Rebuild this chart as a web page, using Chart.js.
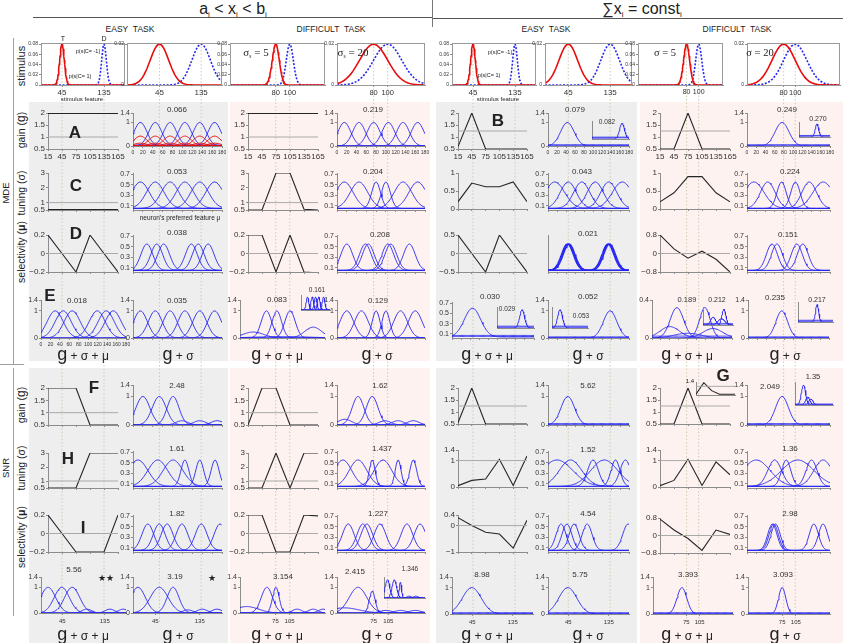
<!DOCTYPE html>
<html><head><meta charset="utf-8">
<script src="https://cdn.jsdelivr.net/npm/chart.js@4.4.1/dist/chart.umd.min.js"></script>
<style>
body{margin:0;background:#fff;}
#root{position:relative;width:843px;height:643px;overflow:hidden;font-family:'Liberation Sans',Arial,sans-serif;color:#222;background:#fff}
.t{position:absolute;white-space:nowrap;transform:translate(-50%,-50%);line-height:1}
.r{position:absolute;white-space:nowrap;transform:translate(-50%,-50%) rotate(-90deg);line-height:1}
.bg{position:absolute}
canvas{position:absolute}
sub{font-size:0.5em;vertical-align:-0.35em}
</style></head><body><div id="root"></div>
<script>
// ================= DATA =================
const featureX = [15,45,75,105,135,165];
const curveXTicks = [0,20,40,60,80,100,120,140,160,180];
const stimMeansEasy = [45,135];
const stimMeansHard = [80,100];
const stimSD = [5,20];

// parameter profiles over neurons (values at featureX)
const mdeGainEasyA = [2,2,2,2,2,2];
const mdeGainHard = [2,2,2,2,2,2];
const mdeTuneEasyC = [0.5,0.5,0.5,0.5,0.5,0.5];
const mdeTuneHard = [0.5,0.5,3,3,0.55,0.5];
const mdeSelEasyD = [0.2,0,-0.2,0.2,0,-0.2];
const mdeSelHard = [0.2,0.2,-0.2,0.2,-0.2,-0.21];
const mdeGainEasySumB = [0.6,2,0.5,0.5,0.5,0.5];
const mdeGainHardSum = [0.5,0.5,2,0.5,0.5,0.5];
const mdeTuneEasySum = [0.2,0.72,0.62,0.62,0.75,0.2];
const mdeTuneHardSum = [0.2,0.45,0.9,0.9,0.45,0.2];
const mdeSelEasySum = [0.5,0,-0.5,0.5,0,-0.5];
const mdeSelHardSum = [0.8,0.2,-0.2,0.1,-0.25,-0.8];

const snrGainEasyF = [2,2,2,0.5,0.5,0.5];
const snrGainHard = [0.5,2,2,0.5,0.5,0.5];
const snrTuneEasyH = [0.5,0.5,0.5,3,3,3];
const snrTuneHard = [0.5,0.5,3,0.5,3,3];
const snrSelEasyI = [0.2,0,-0.2,-0.2,-0.2,0.2];
const snrSelHard = [0.2,0.2,-0.2,-0.2,0.2,0.19];
const snrGainEasySum = [0.55,2,0.5,0.5,0.5,0.5];
const snrGainHardSum = [0.5,0.5,2,0.5,0.5,0.5];
const snrGainHardSumG = [0.55,1.35,0.8,0.55,0.55,0.55];
const snrTuneEasySum = [0.05,0.25,0.3,1.05,0.06,1.17];
const snrTuneHardSum = [0.05,0.25,1.05,0.06,0.95,0.46];
const snrSelEasySum = [0.3,0,-0.25,-0.32,-0.85,0.2];
const snrSelHardSum = [0.75,0.25,-0.14,-0.68,0.25,0.05];

// tuning curves: [preferred feature mu, gain, width sigma]
const gainEasyBlue = [[15,1,13],[45,1,13],[75,1,13],[105,1,13],[135,1,13],[165,1,13]];
const gainEasyRedHi = [[15,.42,13],[45,.42,13],[75,.42,13],[105,.42,13],[135,.42,13],[165,.42,13]];
const gainEasyRedLo = [[15,.12,13],[45,.12,13],[75,.12,13],[105,.12,13],[135,.12,13],[165,.12,13]];
const gainEasyBlueLo = [[15,.05,13],[45,.05,13],[75,.05,13],[105,.05,13],[135,.05,13],[165,.05,13]];
const tuneEasyC = [[15,.5,18],[45,.5,18],[75,.5,18],[105,.5,18],[135,.5,18],[165,.5,18]];
const selEasyD = [[28,.5,12],[48,.5,12],[62,.5,12],[118,.5,12],[132,.5,12],[152,.5,12]];
const allEasyE = [[30,1,17],[47,1,17],[66,1,17],[119,1,17],[138,1,17],[153,1,17]];
const gsEasyE = [[15,1,14],[45,1,14],[75,1,14],[105,1,14],[135,1,14],[165,1,14]];

const gainHardG = [[15,1,13],[45,1,13],[75,1,13],[105,1,13],[135,1,13],[165,1,13]];
const tuneHardC = [[15,.5,18],[45,.5,18],[80,.5,9],[100,.5,9],[135,.5,18],[165,.5,18]];
const selHardD = [[20,.5,12],[58,.5,12],[64,.5,12],[104,.5,12],[110,.5,12],[148,.5,12]];
const allHardE = [[28,.22,22],[56,1,11],[78,1,10],[106,1,11],[155,.4,18],[90,.05,60]];
const allHardEInset = [[40,1,8],[70,1,8],[90,1,8],[110,1,8],[140,1,8]];
const gsHardE = [[20,1,14],[50,1,14],[80,1,8],[100,1,8],[130,1,14],[160,1,14]];

const gainEasySumG = [[43,1,15],[90,.03,400],[90,.05,400]];
const gainEasySumInset = [[146,1,12],[90,.08,400],[90,.12,400]];
const tuneEasySumG = [[15,.5,22],[45,.5,18],[75,.5,18],[105,.5,18],[135,.5,18],[165,.5,22]];
const selEasySumG = [[43,.5,13],[45,.5,13],[47,.5,13],[133,.5,13],[135,.5,13],[137,.5,13]];
const allEasySumE = [[45,.56,18],[90,.01,400],[90,.03,400]];
const allEasySumInset = [[122,1,12],[90,.05,400],[90,.1,400]];
const gsEasySumE = [[138,1,15],[90,.02,400],[90,.04,400]];
const gsEasySumInset = [[40,1,12],[90,.05,400],[90,.1,400]];

const gainHardSumG = [[76,1,15],[90,.03,400],[90,.05,400]];
const gainHardSumInset = [[104,1,10],[90,.08,400],[90,.12,400]];
const tuneHardSumG = [[15,.5,22],[45,.5,16],[75,.5,10],[105,.5,10],[135,.5,16],[165,.5,22]];
const selHardSumG = [[54,.5,12],[65,.5,12],[108,.5,12],[121,.5,12]];
const allHardSumE = [[56,.32,15],[119,.32,12],[40,.12,22],[137,.1,22],[80,.05,30],[90,.02,400]];
const allHardSumInset = [[60,.5,15],[125,1,12],[110,.4,20],[90,.1,400]];
const gsHardSumE = [[75,1,13],[90,.02,400],[90,.04,400]];
const gsHardSumInset = [[98,1,8],[90,.05,400],[90,.1,400]];

const gainEasyF = [[20,1,14],[53,1,14],[81,1,12],[99,.15,12],[135,.15,12],[170,.15,12]];
const tuneEasyH = [[10,.5,20],[50,.5,20],[81,.5,20],[105,.5,8],[135,.5,8],[166,.5,8]];
const selEasyI = [[30,.5,12],[53,.5,12],[69,.5,12],[99,.5,12],[138,.5,12],[176,.5,12]];
const allEasyBottom = [[15,1,16],[44,1,16],[66,1,16],[97,.15,10],[146,.15,10],[174,.15,10]];
const gsEasyBottom = [[10,1,15],[53,1,18],[81,1,12],[111,.12,10],[140,.15,10],[170,.15,10]];

const gainHardF = [[16,.2,14],[43,1,12],[72,1,12],[98,.15,12],[125,.15,12],[156,.15,12]];
const tuneHardH = [[12,.5,18],[43,.5,18],[72,.5,6],[94,.5,18],[125,.5,6],[156,.5,7]];
const selHardI = [[23,.5,12],[53,.5,12],[61,.5,12],[88,.5,12],[143,.5,12],[170,.5,12]];
const allHardBottom = [[14,.25,25],[57,1,12],[76,1,7],[121,.15,10],[155,.15,10],[176,.15,10]];
const gsHardBottom = [[15,.2,30],[43,1,18],[72,.85,6],[100,.1,12],[130,.1,12],[160,.1,12]];
const gsHardBottomInset = [[15,1,10],[45,1,10],[72,.85,5],[110,.1,10],[140,.1,10]];

const gainEasySumSNR = [[44,1,15],[90,.02,400],[90,.05,400]];
const tuneEasySumSNR = [[20,.5,35],[50,.5,25],[100,.5,12],[125,.5,30],[150,.5,10],[172,.5,12]];
const selEasySumSNR = [[29,.5,11],[42,.5,11],[58,.5,11],[87,.5,11],[178,.5,12]];
const allEasySumSNR = [[44,1,21],[90,.02,400],[90,.05,400]];
const gsEasySumSNR = [[44,1,20],[90,.02,400],[90,.05,400]];

const gainHardSumSNR = [[76,1,14],[90,.02,400],[90,.05,400]];
const gainHardSumSNRInset = [[40,1,10],[60,.4,10],[75,.3,10],[90,.05,400]];
const tuneHardSumSNR = [[20,.5,30],[60,.5,15],[85,.5,10],[110,.5,35],[140,.5,12],[165,.5,20]];
const selHardSumSNR = [[55,.5,10],[58,.5,10],[62,.5,10],[145,.5,10],[165,.5,10]];
const allHardSumSNR = [[65,1,11],[90,.02,400],[90,.05,400]];
const gsHardSumSNR = [[75,1,8],[90,.02,400],[90,.05,400]];

// ================= DRAWING =================
const root = document.getElementById('root');
const FONT = "'Liberation Sans', Arial, sans-serif";
Chart.defaults.font.family = FONT;
Chart.defaults.color = '#333';
const BLUE = '#2626f2', RED = '#e60d0d', AX = '#8c8c8c';

function div(cls, css, html){ const d=document.createElement('div'); d.className=cls; d.style.cssText=css; if(html!=null) d.innerHTML=html; root.appendChild(d); return d; }
function txt(s,x,y,size,extra=''){ return div('t',`left:${x}px;top:${y}px;font-size:${size}px;${extra}`,s); }
function rot(s,x,y,size,extra=''){ return div('r',`left:${x}px;top:${y}px;font-size:${size}px;${extra}`,s); }
function rect(x0,y0,x1,y1,color){ div('bg',`left:${x0}px;top:${y0}px;width:${x1-x0}px;height:${y1-y0}px;background:${color}`); }
const fmt = v => (v<0?'\u2212':'') + String(+Math.abs(v).toFixed(3));

Chart.register({id:'box', afterDatasetsDraw(chart,args,o){
  if(!o||!o.on) return; const a=chart.chartArea, c=chart.ctx; c.save(); c.strokeStyle='#9a9a9a'; c.lineWidth=1;
  c.strokeRect(Math.round(a.left)+.5, Math.round(a.top)+.5, Math.round(a.width)-1, Math.round(a.height)); c.restore(); }});

function plot(box, datasets, o){
  const [x0,y0,x1,y1]=box;
  const PL=o.pl??22, PT=o.pt??5, PR=o.pr??8, PB=o.pb??12;
  const W=Math.round(x1-x0+PL+PR), H=Math.round(y1-y0+PT+PB);
  const c=document.createElement('canvas');
  c.width=W; c.height=H;
  c.style.left=(x0-PL)+'px'; c.style.top=(y0-PT)+'px'; c.style.width=W+'px'; c.style.height=H+'px';
  root.appendChild(c);
  const fitX = s=>{ s.height=PB; s.paddingLeft=s.paddingRight=s.paddingTop=s.paddingBottom=0; };
  const fitY = s=>{ s.width=PL; s.paddingLeft=s.paddingRight=s.paddingTop=s.paddingBottom=0; };
  const ax = (min,max,ticks,showLbl,size,fit,pad)=>({
    type:'linear', min, max, display: !o.hidden,
    afterBuildTicks: s=>{ s.ticks=(ticks||[]).map(v=>({value:v})); },
    afterFit: o.hidden ? undefined : fit,
    ticks:{display:!!showLbl, autoSkip:false, maxRotation:0, minRotation:0, padding:pad, color:'#333', font:{size, family:FONT}, callback:v=>fmt(v)},
    grid:{drawOnChartArea:false, drawTicks:true, tickLength:2, color:AX, lineWidth:1},
    border:{display:true, color:AX, width:1}
  });
  new Chart(c,{type:'line', data:{datasets}, options:{
    responsive:false, animation:false, events:[],
    layout:{padding:{top:PT,right:PR,left:0,bottom:0}},
    plugins:{legend:{display:false}, tooltip:{enabled:false}, box:{on:!!o.box}},
    scales:{ x: ax(o.xmin,o.xmax,o.xt,o.xl,o.xf||8,fitX,o.xpad??1), y: ax(o.ymin,o.ymax,o.yt,o.yl!==false,o.yf||8,fitY,1) }
  }});
}
function line(pts,color,w,dash){ return {data:pts, borderColor:color, borderWidth:w, borderDash:dash||[], pointRadius:0, fill:false, tension:0}; }
function gaussDS(list, base, color, w){
  return list.map(([mu,a,s])=>{
    const step=Math.max(0.5,Math.min(2,s/4)); const pts=[];
    for(let x=0;x<=180.001;x+=step) pts.push({x, y: base + a*Math.exp(-((x-mu)**2)/(2*s*s))});
    return line(pts,color,w);
  });
}
function pdfDS(mu, sd, lo, hi, color, dash){
  const pts=[]; const step=sd/6;
  for(let x=lo;x<=hi+1e-9;x+=step) pts.push({x, y: Math.exp(-((x-mu)**2)/(2*sd*sd))/(sd*Math.sqrt(2*Math.PI))});
  return line(pts,color,1.6,dash);
}
function profile(box, vals, ref, yr, yt, opt={}){
  const ds=[];
  if(ref!=null) ds.push(line([{x:15,y:ref},{x:165,y:ref}],'#a9a9a9',1));
  ds.push(line(featureX.map((x,i)=>({x,y:vals[i]})),'#252525',opt.lw||1.1));
  plot(box, ds, {xmin:15,xmax:165,ymin:yr[0],ymax:yr[1],xt:opt.xt??featureX,xl:opt.xl,xf:8,yt,yf:opt.yf||8,yl:opt.yl,pl:opt.pl??22,pb:opt.pb});
}
function curves(box, sets, yr, yt, opt={}){
  const ds=[]; sets.forEach(s=>ds.push(...gaussDS(s.n, s.base??0, s.c||BLUE, s.w||0.9)));
  plot(box, ds, {xmin:0,xmax:180,ymin:yr[0],ymax:yr[1],xt:opt.xt??curveXTicks,xl:opt.xl,xf:opt.xf||5,xpad:opt.xpad??2,yt,yf:7,yl:opt.yl,pl:opt.pl??20,pb:opt.pb});
}
function inset(box, list, yr){ curves(box,[{n:list}], yr||[0,1.15], [], {xt:[], yl:false, pl:2, pb:2, xl:false}); }
function stim(box, xr, means, sd, ymax, yt, xf){
  plot(box, [pdfDS(means[0],sd,xr[0],xr[1],RED), pdfDS(means[1],sd,xr[0],xr[1],BLUE,[2,1.6])],
    {xmin:xr[0],xmax:xr[1],ymin:0,ymax,xt:means,xl:true,xf:xf||8,yt,yf:5,pl:16,box:true});
}
function guide(x0,x1,xr,vals){
  plot([x0,43,x1,622], vals.map(v=>line([{x:v,y:0},{x:v,y:1}],'#cdcdb2',1,[1.5,2])),
    {xmin:xr[0],xmax:xr[1],ymin:0,ymax:1,hidden:true,pl:0,pr:0,pt:0,pb:0});
}

// ---------- backgrounds ----------
rect(29,102,228,361,'#eeeeee'); rect(230,102,430,361,'#fdf2ef');
rect(436,102,637,361,'#eeeeee'); rect(640,102,843,361,'#fdf2ef');
rect(29,368,228,643,'#eeeeee'); rect(230,368,430,643,'#fdf2ef');
rect(436,368,637,643,'#eeeeee'); rect(640,368,843,643,'#fdf2ef');

// ---------- guide lines ----------
const stimBoxes = [[41,125,[0,180],stimMeansEasy],[127,222,[-25,180],stimMeansEasy],[230,325,[15,150],stimMeansHard],[337,425,[28,153],stimMeansHard],
                   [452,536,[0,180],stimMeansEasy],[545,632,[-5,182],stimMeansEasy],[638,723,[0,140],stimMeansHard],[747,840,[17,177],stimMeansHard]];
stimBoxes.forEach(b=>guide(b[0],b[1],b[2],b[3]));

// ---------- headers ----------
txt('a<sub>i</sub> &lt; x<sub>i</sub> &lt; b<sub>i</sub>',233,10,16);
txt('&sum;x<sub>i</sub> = const<sub>i</sub>',642,10,16);
rect(33,17,432,18,'#555'); rect(433,18,843,19,'#555'); rect(432,0,433,27,'#777');
txt('EASY&nbsp; TASK',130,29,8.5); txt('DIFFICULT&nbsp; TASK',331,29,8.5);
txt('EASY&nbsp; TASK',546,29,8.5); txt('DIFFICULT&nbsp; TASK',737,29,8.5);
rect(13,38,14,365,'#a0a0a0'); rect(0,364,24,365,'#a0a0a0'); rect(13,368,14,616,'#a0a0a0');
rot('stimulus',21,66,11); rot('gain (<span style="font-size:12px">g</span>)',21,130,10.5);
rot('tuning (&sigma;)',21,193,10.5); rot('selectivity (<b>&mu;</b>)',21,252,10.5); rot('MDE',6,193,9.5);
rot('gain (<span style="font-size:12px">g</span>)',21,405,10.5); rot('tuning (&sigma;)',21,468,10.5);
rot('SNR',6,468,9.5); rot('selectivity (<b>&mu;</b>)',21,537,10.5);

// ---------- stimulus row ----------
const NY=[0,0.02,0.04,0.06,0.08], WY=[0,0.02];
stim([41,43,125,85],[0,180],stimMeansEasy,stimSD[0],0.082,NY);
stim([127,43,222,85],[-25,180],stimMeansEasy,stimSD[1],0.0205,WY);
stim([230,43,325,85],[15,150],stimMeansHard,stimSD[0],0.082,NY,7.5);
stim([337,43,425,85],[28,153],stimMeansHard,stimSD[1],0.0205,WY,7.5);
stim([452,43,536,85],[0,180],stimMeansEasy,stimSD[0],0.082,NY);
stim([545,43,632,85],[-5,182],stimMeansEasy,stimSD[1],0.0205,WY);
stim([638,43,723,85],[0,140],stimMeansHard,stimSD[0],0.082,NY,7);
stim([747,43,840,85],[17,177],stimMeansHard,stimSD[1],0.0205,WY,7.5);
txt('T',63,38,7); txt('D',104,38,7);
txt('p(s|C= -1)',88,52,5.5); txt('p(s|C= 1)',80,77,5.5); txt('stimulus feature',82,99,6);
txt('p(s|C= -1)',500,53,5.5); txt('p(s|C= 1)',489,76,5.5); txt('stimulus feature',498,99,6);
const SER="font-family:'Liberation Serif','Times New Roman',serif";
txt('&sigma;<sub>s</sub> = 5',256,53,11,SER); txt('&sigma;<sub>s</sub> = 20',353,53,11,SER);
txt('&sigma; = 5',665,53,10.5,SER); txt('&sigma; = 20',760,53,10.5,SER);

const GY=[0,1.4], GYT=[0,1,1.4], TY=[0.02,0.72], TYT=[0.1,0.3,0.5,0.7];
const GPY=[0.5,2], GPT=[0.5,1,1.5,2], TPY=[0.5,3], TPT=[0.5,1,2,3], SPY=[-0.2,0.2], SPT=[-0.2,0,0.2];

// ---------- MDE, a<x<b ----------
profile([48,113,118,149], mdeGainEasyA, 1, GPY, GPT, {xl:true, lw:2.2});
curves([133,113,222,146], [{n:gainEasyRedHi,c:RED},{n:gainEasyRedLo,c:RED},{n:gainEasyBlueLo},{n:gainEasyBlue}], GY, GYT, {xl:true});
profile([248,113,318,149], mdeGainHard, 1, GPY, GPT, {xl:true, lw:2.2});
curves([337,113,425,146], [{n:gainHardG}], GY, GYT, {xl:true});
profile([48,173,118,210], mdeTuneEasyC, 1, TPY, TPT, {lw:2.2});
curves([133,173,222,210], [{n:tuneEasyC,base:.05}], TY, TYT);
profile([248,173,318,210], mdeTuneHard, 1, TPY, TPT);
curves([337,173,425,210], [{n:tuneHardC,base:.05}], TY, TYT);
profile([48,235,118,272], mdeSelEasyD, 0, SPY, SPT);
curves([133,235,222,272], [{n:selEasyD,base:.05}], TY, TYT);
profile([248,235,318,272], mdeSelHard, 0, SPY, SPT);
curves([337,235,425,272], [{n:selHardD,base:.05}], TY, TYT);
curves([41,300,126,338], [{n:allEasyE}], GY, GYT, {xl:true});
curves([133,300,222,338], [{n:gsEasyE}], GY, GYT);
curves([240,300,325,338], [{n:allHardE}], GY, GYT);
inset([301,295,330,310], allHardEInset);
curves([337,300,425,338], [{n:gsHardE}], GY, GYT);

// ---------- MDE, sum const ----------
profile([458,113,527,149], mdeGainEasySumB, 1.25, GPY, GPT, {xl:true});
curves([548,113,629,146], [{n:gainEasySumG}], GY, GYT, {xl:true});
inset([592,121,629,139], gainEasySumInset);
profile([660,113,730,149], mdeGainHardSum, 1.25, GPY, GPT, {xl:true});
curves([747,113,830,146], [{n:gainHardSumG}], GY, GYT, {xl:true});
inset([799,122,830,137], gainHardSumInset);
profile([458,173,527,209], mdeTuneEasySum, null, [0,1], [0,0.5,1]);
curves([548,173,629,210], [{n:tuneEasySumG,base:.05}], TY, TYT);
profile([660,173,730,209], mdeTuneHardSum, null, [0,1], [0,0.5,1]);
curves([747,173,830,210], [{n:tuneHardSumG,base:.05}], TY, TYT);
profile([458,235,527,272], mdeSelEasySum, 0, [-0.5,0.5], [-0.5,0,0.5]);
curves([548,235,629,272], [{n:selEasySumG,base:.05,w:1.3}], TY, []);
profile([660,235,730,272], mdeSelHardSum, 0, [-0.8,0.8], [-0.8,0,0.8]);
curves([747,235,830,272], [{n:selHardSumG,base:.05}], TY, TYT);
curves([452,302,534,338], [{n:allEasySumE,base:.04}], TY, TYT);
inset([497,307,534,328], allEasySumInset);
curves([548,300,629,338], [{n:gsEasySumE}], GY, GYT);
inset([552,307,588,328], gsEasySumInset);
curves([652,300,732,338], [{n:allHardSumE}], [0,0.4], [0,0.4]);
inset([703,307,733,325], allHardSumInset);
curves([748,300,829,338], [{n:gsHardSumE}], GY, GYT);
inset([798,302,833,322], gsHardSumInset);

// ---------- SNR, a<x<b ----------
profile([48,388,118,425], snrGainEasyF, 1, GPY, GPT);
curves([133,385,222,425], [{n:gainEasyF}], GY, GYT);
profile([248,388,318,425], snrGainHard, 1, GPY, GPT);
curves([337,385,425,425], [{n:gainHardF}], GY, GYT);
profile([48,453,118,488], snrTuneEasyH, 1, TPY, TPT);
curves([133,451,222,488], [{n:tuneEasyH,base:.05}], TY, TYT);
profile([248,453,318,488], snrTuneHard, 1, TPY, TPT);
curves([337,451,425,488], [{n:tuneHardH,base:.05}], TY, TYT);
profile([48,515,118,552], snrSelEasyI, 0, SPY, SPT);
curves([133,515,222,552], [{n:selEasyI,base:.05}], TY, TYT);
profile([248,515,318,552], snrSelHard, 0, SPY, SPT);
curves([337,515,425,552], [{n:selHardI,base:.05}], TY, TYT);
curves([41,577,126,613], [{n:allEasyBottom}], GY, GYT, {xl:true, xt:[45,135], xf:6, xpad:3});
curves([133,577,222,613], [{n:gsEasyBottom}], GY, GYT, {xl:true, xt:[45,135], xf:6, xpad:3});
curves([240,577,325,613], [{n:allHardBottom}], GY, GYT, {xl:true, xt:[75,105], xf:6, xpad:3});
curves([337,577,425,613], [{n:gsHardBottom}], GY, GYT, {xl:true, xt:[75,105], xf:6, xpad:3});
inset([384,577,425,598], gsHardBottomInset);

// ---------- SNR, sum const ----------
profile([458,388,527,424], snrGainEasySum, 1.25, GPY, GPT);
curves([548,385,629,425], [{n:gainEasySumSNR}], GY, GYT);
profile([660,388,730,424], snrGainHardSum, 1.25, GPY, GPT);
profile([696,382,735,395], snrGainHardSumG, 1.1, [0.5,1.4], [], {xt:[], yl:false, pl:2, pb:2});
curves([747,385,830,425], [{n:gainHardSumSNR}], GY, GYT);
inset([795,382,833,405], gainHardSumSNRInset);
profile([458,450,527,487], snrTuneEasySum, 1, [0,1.4], [0,1,1.4]);
curves([548,451,629,488], [{n:tuneEasySumSNR,base:.05}], TY, TYT);
profile([660,450,730,487], snrTuneHardSum, 1, [0,1.4], [0,1,1.4]);
curves([747,451,830,488], [{n:tuneHardSumSNR,base:.05}], TY, TYT);
profile([458,515,527,552], snrSelEasySum, 0, [-1,0.4], [-1,0,0.4]);
curves([548,515,629,552], [{n:selEasySumSNR,base:.05}], TY, TYT);
profile([660,518,730,553], snrSelHardSum, 0, [-0.8,0.8], [-0.8,0,0.8]);
curves([747,515,830,552], [{n:selHardSumSNR,base:.05}], TY, TYT);
curves([452,577,533,614], [{n:allEasySumSNR}], GY, GYT, {xl:true, xt:[45,135], xf:6, xpad:3});
curves([548,577,629,614], [{n:gsEasySumSNR}], GY, GYT, {xl:true, xt:[45,135], xf:6, xpad:3});
curves([653,577,733,614], [{n:allHardSumSNR}], GY, GYT, {xl:true, xt:[75,105], xf:6, xpad:3});
curves([748,577,830,614], [{n:gsHardSumSNR}], GY, GYT, {xl:true, xt:[75,105], xf:6, xpad:3});

// ---------- panel letters ----------
const BL='font-weight:bold;font-family:Arial,"Liberation Sans",sans-serif';
[['A',75,132],['C',76,185],['D',76,233],['E',50,295],['B',498,120],['F',94,387],['H',68,458],['I',83,527],['G',723,375]]
  .forEach(([s,x,y])=>txt(s,x,y,17,BL));
txt('1.4',690,381,6);
txt('neuron\u2019s preferred feature \u03bc',180,218,6.5);

// ---------- panel values ----------
const T8='color:#333';
[['0.066',177,110,8],['0.219',373,110,8],['0.079',575,110,8],['0.082',607,122,6.5],['0.249',787,110,8],['0.270',818,118,7],
 ['0.053',177,172,8],['0.204',373,172,8],['0.043',582,172,8],['0.224',790,172,8],
 ['0.038',177,233,8],['0.208',380,235,8],['0.021',588,234,8],['0.151',788,235,8],
 ['0.018',77,301,8],['0.035',177,301,8],['0.083',277,300,8],['0.161',317,290,6.5],['0.129',378,301,8],
 ['0.030',490,297,8],['0.029',507,309,6.5],['0.052',588,297,8],['0.053',581,316,6.5],['0.189',687,300,7.5],['0.212',717,299,7],['0.235',775,298,8],['0.217',817,299,7],
 ['2.48',177,386,8],['1.62',380,386,8],['5.62',588,386,8],['2.049',770,387,8],['1.35',813,377,7.5],
 ['1.61',177,449,8],['1.437',382,449,8],['1.52',588,450,8],['1.36',790,449,8],
 ['1.82',177,514,8],['1.227',378,514,8],['4.54',588,514,8],['2.98',790,514,8],
 ['5.56',74,570,8],['3.19',175,577,8],['3.154',283,577,8],['2.415',355,572,8],['1.346',410,569,6.5],
 ['8.98',482,575,8],['5.75',580,575,8],['3.393',688,575,8],['3.093',783,575,8]]
 .forEach(([s,x,y,f])=>txt(s,x,y,f,T8));
txt('\u2605\u2605',106,578,9); txt('\u2605',212,578,9);

// ---------- bottom labels ----------
function glab(x,y,mu){ txt('<span style="font-size:18px">g</span> <span style="font-size:12px">+ &sigma;'+(mu?' + &mu;':'')+'</span>',x,y,12); }
[[83,true],[178,false],[277,true],[377,false],[487,true],[588,false],[687,true],[785,false]].forEach(([x,m])=>{ glab(x,354,m); glab(x,634,m); });
</script></body></html>
